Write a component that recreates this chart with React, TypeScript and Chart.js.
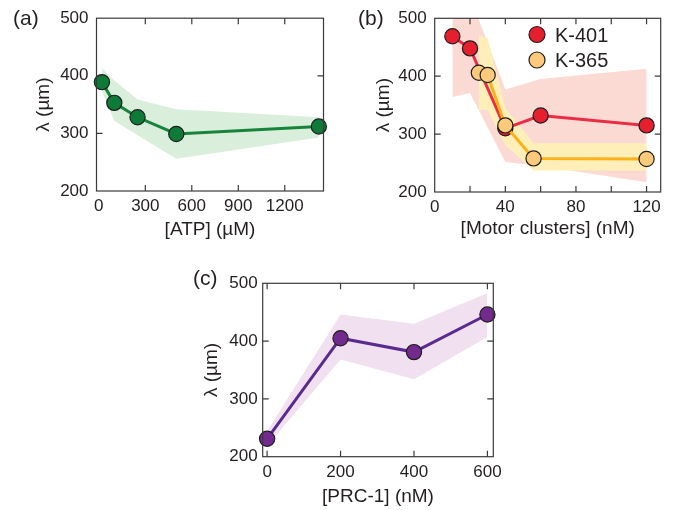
import React, { useEffect, useRef } from 'react';
import { Chart, registerables } from 'chart.js';

Chart.register(...registerables);

const FONT = "'Liberation Sans', Arial, Helvetica, sans-serif";
const TEXT = '#231f20';
const AXIS = '#3a3a3a';

// ---------- data ----------
// (a) ATP
const atpConc = [20, 100, 250, 500, 1420];
const atpLambda = [389, 353, 328, 299, 312];
const atpUpper = [413, 392, 359, 342, 328];
const atpLower = [373, 322, 297, 256, 293];
const atpTicks = [0, 300, 600, 900, 1200];
const atpTickMarks = [0, 300, 600, 900, 1200];

// (b) motor clusters
const k401Conc = [10, 20, 40, 60, 120];
const k401Lambda = [469, 448, 310, 332, 315];
const k401Upper = [545, 538, 377, 395, 413];
const k401Lower = [364, 371, 252, 245, 217];
const k365Conc = [25, 30, 40, 56, 120];
const k365Lambda = [406, 402, 315, 258, 257];
const k365Upper = [470, 466, 345, 284, 284];
const k365Lower = [342, 342, 281, 237, 237];
const motorTicks = [0, 40, 80, 120];
const motorTickMarks = [0, 20, 40, 60, 80, 100, 120];
const seriesNames = ['K-401', 'K-365'];

// (c) PRC-1
const prcConc = [0, 200, 400, 600];
const prcLambda = [231, 405, 381, 446];
const prcUpper = [244, 446, 430, 483];
const prcLower = [219, 368, 334, 407];
const prcTicks = [0, 200, 400, 600];
const prcTickMarks = [0, 200, 400, 600];

const lambdaTicks = [200, 300, 400, 500];

// ---------- helpers ----------
const pts = (xs: number[], ys: number[]) => xs.map((x, i) => ({ x, y: ys[i] }));

const band = (xs: number[], up: number[], lo: number[], color: string, order: number) => [
  {
    type: 'line' as const,
    data: pts(xs, up),
    borderWidth: 0,
    pointRadius: 0,
    backgroundColor: color,
    borderColor: 'rgba(0,0,0,0)',
    fill: '+1',
    order,
    tension: 0,
  },
  {
    type: 'line' as const,
    data: pts(xs, lo),
    borderWidth: 0,
    pointRadius: 0,
    borderColor: 'rgba(0,0,0,0)',
    fill: false,
    order,
    tension: 0,
  },
];

const series = (xs: number[], ys: number[], line: string, marker: string, order: number) => ({
  type: 'line' as const,
  data: pts(xs, ys),
  borderColor: line,
  borderWidth: 3,
  pointRadius: 7.6,
  pointBackgroundColor: marker,
  pointBorderColor: '#1e1e1e',
  pointBorderWidth: 1.2,
  fill: false,
  tension: 0,
  clip: false as any,
  order,
});

const framePlugin = {
  id: 'frame',
  afterDatasetsDraw(chart: any, _args: any, opts: any) {
    const { ctx, chartArea, scales } = chart;
    const { left, right, top, bottom } = chartArea;
    ctx.save();
    ctx.strokeStyle = AXIS;
    ctx.lineWidth = 1.2;
    ctx.strokeRect(left, top, right - left, bottom - top);
    const L = 6;
    ctx.beginPath();
    scales.x.ticks.forEach((t: any) => {
      const px = scales.x.getPixelForValue(t.value);
      if (px <= left + 3 || px >= right - 3) return;
      ctx.moveTo(px, bottom);
      ctx.lineTo(px, bottom - L);
      ctx.moveTo(px, top);
      ctx.lineTo(px, top + L);
    });
    scales.y.ticks.forEach((t: any) => {
      const py = scales.y.getPixelForValue(t.value);
      if (py <= top + 3 || py >= bottom - 3) return;
      ctx.moveTo(left, py);
      ctx.lineTo(left + L, py);
      ctx.moveTo(right, py);
      ctx.lineTo(right - L, py);
    });
    ctx.stroke();

    ctx.fillStyle = TEXT;
    if (opts.tag) {
      ctx.font = `21px ${FONT}`;
      ctx.textAlign = 'left';
      ctx.textBaseline = 'middle';
      ctx.fillText(opts.tag, opts.tagX, opts.tagY);
    }
    if (opts.legend) {
      opts.legend.forEach((e: any) => {
        ctx.beginPath();
        ctx.arc(e.cx, e.cy, 8, 0, Math.PI * 2);
        ctx.fillStyle = e.color;
        ctx.fill();
        ctx.lineWidth = 1.2;
        ctx.strokeStyle = '#1e1e1e';
        ctx.stroke();
        ctx.fillStyle = TEXT;
        ctx.font = `20px ${FONT}`;
        ctx.textAlign = 'left';
        ctx.textBaseline = 'alphabetic';
        ctx.fillText(e.text, e.tx, e.ty);
      });
    }
    ctx.restore();
  },
};

type Panel = {
  w: number;
  h: number;
  left: number;
  top: number;
  plot: { l: number; t: number; r: number; b: number };
  xMin: number;
  xMax: number;
  xMarks: number[];
  xLabels: number[];
  xTitle: string;
  xTitlePad: number;
  yTitlePad: number;
  yTickPad: number;
  xTickPad: number;
  datasets: any[];
  frame: any;
};

function buildConfig(p: Panel): any {
  return {
    type: 'line',
    data: { datasets: p.datasets },
    plugins: [framePlugin],
    options: {
      responsive: false,
      animation: false,
      devicePixelRatio: 1,
      layout: {
        padding: { top: p.plot.t, right: p.w - p.plot.r, bottom: 0, left: 0 },
      },
      plugins: {
        legend: { display: false },
        tooltip: { enabled: false },
        filler: { drawTime: 'beforeDatasetsDraw' },
        frame: p.frame,
      },
      scales: {
        x: {
          type: 'linear',
          min: p.xMin,
          max: p.xMax,
          grid: { display: false, drawTicks: false },
          border: { display: false },
          afterBuildTicks: (s: any) => {
            s.ticks = p.xMarks.map((v) => ({ value: v }));
          },
          ticks: {
            padding: p.xTickPad,
            color: TEXT,
            font: { family: FONT, size: 17 },
            maxRotation: 0,
            minRotation: 0,
            autoSkip: false,
            callback: (v: any) => (p.xLabels.includes(Number(v)) ? String(v) : ''),
          },
          title: {
            display: true,
            text: p.xTitle,
            color: TEXT,
            font: { family: FONT, size: 19 },
            padding: { top: 0, bottom: p.xTitlePad },
          },
          afterFit: (s: any) => {
            s.height = p.h - p.plot.b;
          },
        },
        y: {
          type: 'linear',
          min: 200,
          max: 500,
          grid: { display: false, drawTicks: false },
          border: { display: false },
          afterBuildTicks: (s: any) => {
            s.ticks = lambdaTicks.map((v) => ({ value: v }));
          },
          ticks: {
            padding: p.yTickPad,
            color: TEXT,
            font: { family: FONT, size: 17 },
            callback: (v: any) => String(v),
          },
          title: {
            display: true,
            text: 'λ (µm)',
            color: TEXT,
            font: { family: FONT, size: 19 },
            padding: { top: p.yTitlePad, bottom: 0 },
          },
          afterFit: (s: any) => {
            s.width = p.plot.l;
          },
        },
      },
    },
  };
}

const panels: Panel[] = [
  {
    w: 340,
    h: 250,
    left: 0,
    top: 0,
    plot: { l: 96.5, t: 16, r: 323.5, b: 191 },
    xMin: -15,
    xMax: 1450,
    xMarks: atpTickMarks,
    xLabels: atpTicks,
    xTitle: '[ATP] (µM)',
    xTitlePad: 8.6,
    yTitlePad: 32,
    yTickPad: 8,
    xTickPad: 5,
    datasets: [
      ...band(atpConc, atpUpper, atpLower, '#d9eedb', 10),
      series(atpConc, atpLambda, '#17843d', '#0d7a38', 1),
    ],
    frame: { tag: '(a)', tagX: 13, tagY: 19 },
  },
  {
    w: 337,
    h: 250,
    left: 340,
    top: 0,
    plot: { l: 94.7, t: 18.3, r: 320.7, b: 192 },
    xMin: 0,
    xMax: 128,
    xMarks: motorTickMarks,
    xLabels: motorTicks,
    xTitle: '[Motor clusters] (nM)',
    xTitlePad: 9.6,
    yTitlePad: 32,
    yTickPad: 8,
    xTickPad: 5,
    datasets: [
      ...band(k401Conc, k401Upper, k401Lower, '#fbdad3', 10),
      ...band(k365Conc, k365Upper, k365Lower, '#feefb8', 9),
      series(k401Conc, k401Lambda, '#ea2d44', '#e51f2d', 2),
      series(k365Conc, k365Lambda, '#fbb21a', '#fdc97b', 1),
    ],
    frame: {
      tag: '(b)',
      tagX: 18,
      tagY: 19,
      legend: [
        { text: seriesNames[0], color: '#e51f2d', cx: 197, cy: 34.5, tx: 215, ty: 41.7 },
        { text: seriesNames[1], color: '#fdc97b', cx: 197, cy: 60, tx: 215, ty: 67.3 },
      ],
    },
  },
  {
    w: 330,
    h: 250,
    left: 180,
    top: 260,
    plot: { l: 82.7, t: 23.3, r: 313.3, b: 196.7 },
    xMin: -12,
    xMax: 616,
    xMarks: prcTickMarks,
    xLabels: prcTicks,
    xTitle: '[PRC-1] (nM)',
    xTitlePad: 2,
    yTitlePad: 20,
    yTickPad: 5,
    xTickPad: 5,
    datasets: [
      ...band(prcConc, prcUpper, prcLower, '#f1e0ef', 10),
      series(prcConc, prcLambda, '#5a2b8e', '#732a8f', 1),
    ],
    frame: { tag: '(c)', tagX: 13, tagY: 19 },
  },
];

function PanelChart({ p }: { p: Panel }) {
  const ref = useRef<HTMLCanvasElement | null>(null);
  useEffect(() => {
    if (!ref.current) return;
    const chart = new Chart(ref.current, buildConfig(p));
    return () => chart.destroy();
  }, [p]);
  return (
    <canvas
      ref={ref}
      width={p.w}
      height={p.h}
      style={{ position: 'absolute', left: p.left, top: p.top, width: p.w, height: p.h }}
    />
  );
}

export default function App() {
  return (
    <div style={{ position: 'fixed', left: 0, top: 0, width: 677, height: 510, background: '#ffffff' }}>
      {panels.map((p, i) => (
        <PanelChart key={i} p={p} />
      ))}
    </div>
  );
}
